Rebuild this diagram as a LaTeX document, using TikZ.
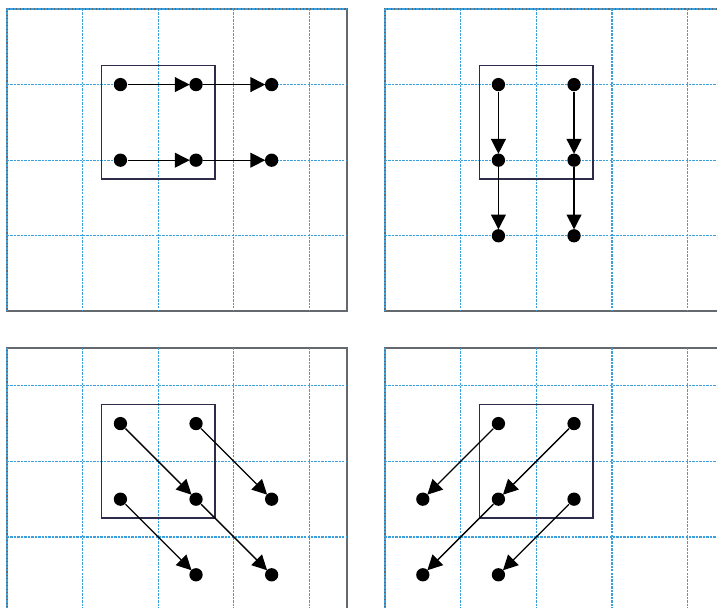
\documentclass[tikz,border=0pt]{standalone}
\usetikzlibrary{arrows.meta}

\definecolor{gridblue}{RGB}{60,160,220}
\definecolor{framegray}{RGB}{100,105,112}
\definecolor{boxnavy}{RGB}{45,45,75}

\begin{document}
\begin{tikzpicture}[x=1cm, y=-1cm,
    frame/.style={draw=framegray, line width=0.7pt},
    gridline/.style={gridblue, line width=0.5pt, dash pattern=on 0.9pt off 0.4pt},
    kernel/.style={draw=boxnavy, line width=0.6pt},
    dot/.style={circle, fill=black, inner sep=0pt, minimum size=5pt},
    move/.style={-{Triangle[length=5.6pt, width=5.6pt]}, line width=0.5pt, shorten >=-0.3pt}]

    \useasboundingbox (0,0) rectangle (9.484,8.042);
    \clip (0,0) rectangle (9.484,8.042);

    % Oben links - nach rechts
    \begin{scope}[shift={(0.093,0.119)}]
        \draw[frame] (0,0) rectangle (4.5,4);
        \foreach \x in {0,...,4} \draw[gridline] (\x,0) -- (\x,4);
        \foreach \y in {0,...,3} \draw[gridline] (0,\y) -- (4.5,\y);
        \draw[kernel] (1.25,0.75) rectangle (2.75,2.25);
        \node[dot] (ra1) at (1.5,1) {};
        \node[dot] (ra2) at (2.5,1) {};
        \node[dot] (ra3) at (3.5,1) {};
        \node[dot] (rb1) at (1.5,2) {};
        \node[dot] (rb2) at (2.5,2) {};
        \node[dot] (rb3) at (3.5,2) {};
        \draw[move] (ra1) -- (ra2);
        \draw[move] (ra2) -- (ra3);
        \draw[move] (rb1) -- (rb2);
        \draw[move] (rb2) -- (rb3);
    \end{scope}

    % Oben rechts - nach unten
    \begin{scope}[shift={(5.093,0.119)}]
        \draw[frame] (0,0) rectangle (4.5,4);
        \foreach \x in {0,...,4} \draw[gridline] (\x,0) -- (\x,4);
        \foreach \y in {0,...,3} \draw[gridline] (0,\y) -- (4.5,\y);
        \draw[kernel] (1.25,0.75) rectangle (2.75,2.25);
        \node[dot] (da1) at (1.5,1) {};
        \node[dot] (db1) at (2.5,1) {};
        \node[dot] (da2) at (1.5,2) {};
        \node[dot] (db2) at (2.5,2) {};
        \node[dot] (da3) at (1.5,3) {};
        \node[dot] (db3) at (2.5,3) {};
        \draw[move] (da1) -- (da2);
        \draw[move] (da2) -- (da3);
        \draw[move] (db1) -- (db2);
        \draw[move] (db2) -- (db3);
    \end{scope}

    % Unten links - nach rechts unten
    \begin{scope}[shift={(0.093,4.603)}]
        \draw[frame] (0,0) rectangle (4.5,4);
        \foreach \x in {0,...,4} \draw[gridline] (\x,0) -- (\x,4);
        \foreach \y in {0.5,1.5,2.5,3.5} \draw[gridline] (0,\y) -- (4.5,\y);
        \draw[kernel] (1.25,0.75) rectangle (2.75,2.25);
        \node[dot] (sa1) at (1.5,1) {};
        \node[dot] (sb1) at (2.5,1) {};
        \node[dot] (sa2) at (1.5,2) {};
        \node[dot] (sb2) at (2.5,2) {};
        \node[dot] (sc2) at (3.5,2) {};
        \node[dot] (sb3) at (2.5,3) {};
        \node[dot] (sc3) at (3.5,3) {};
        \draw[move] (sa1) -- (sb2);
        \draw[move] (sb2) -- (sc3);
        \draw[move] (sb1) -- (sc2);
        \draw[move] (sa2) -- (sb3);
    \end{scope}

    % Unten rechts - nach links unten
    \begin{scope}[shift={(5.093,4.603)}]
        \draw[frame] (0,0) rectangle (4.5,4);
        \foreach \x in {0,...,4} \draw[gridline] (\x,0) -- (\x,4);
        \foreach \y in {0.5,1.5,2.5,3.5} \draw[gridline] (0,\y) -- (4.5,\y);
        \draw[kernel] (1.25,0.75) rectangle (2.75,2.25);
        \node[dot] (ta1) at (1.5,1) {};
        \node[dot] (tb1) at (2.5,1) {};
        \node[dot] (tz2) at (0.5,2) {};
        \node[dot] (ta2) at (1.5,2) {};
        \node[dot] (tb2) at (2.5,2) {};
        \node[dot] (tz3) at (0.5,3) {};
        \node[dot] (ta3) at (1.5,3) {};
        \draw[move] (ta1) -- (tz2);
        \draw[move] (tb1) -- (ta2);
        \draw[move] (ta2) -- (tz3);
        \draw[move] (tb2) -- (ta3);
    \end{scope}
\end{tikzpicture}
\end{document}
